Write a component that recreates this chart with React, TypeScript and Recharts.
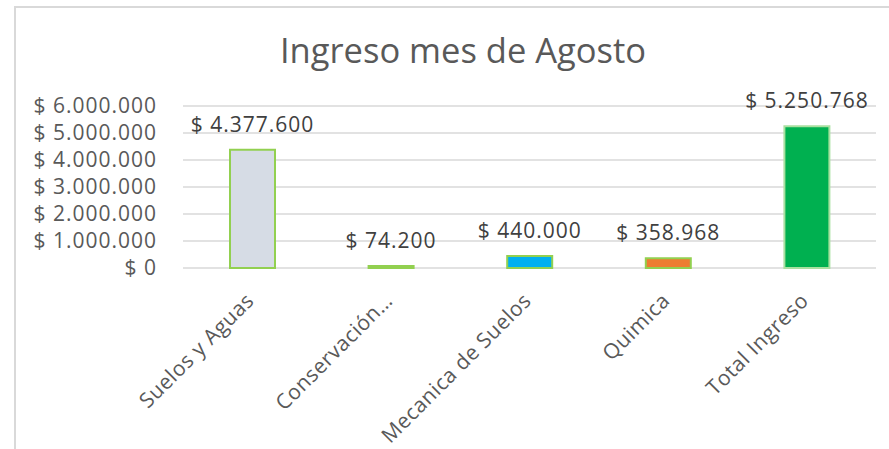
import React from "react";
import { BarChart, Bar, XAxis, YAxis, CartesianGrid, Cell, LabelList } from "recharts";

const categories = ["Suelos y Aguas", "Conservación…", "Mecanica de Suelos", "Quimica", "Total Ingreso"];
const ingresos = [4377600, 74200, 440000, 358968, 5250768];
const yTicks = [0, 1000000, 2000000, 3000000, 4000000, 5000000, 6000000];
const fills = ["#d6dce5", "#92d050", "#00b0f0", "#ed7d31", "#00b050"];
const strokes = ["#92d050", "#92d050", "#92d050", "#92d050", "#a9e0a0"];

const data = categories.map((name, i) => ({ name, value: ingresos[i] }));

const FONT = "'Open Sans', sans-serif";

function money(v: number) {
  return "$ " + Math.round(v).toString().replace(/\B(?=(\d{3})+(?!\d))/g, ".");
}

function CategoryTick({ x, y, payload }: any) {
  return (
    <g transform={`translate(${x + 3},${y + 34})`}>
      <text textAnchor="end" transform="rotate(-45)" fill="#595959" fontSize={21} letterSpacing={0.5} fontFamily={FONT}>
        {payload.value}
      </text>
    </g>
  );
}

// single-line value label above each bar
function ValueLabel({ x, y, width, value }: any) {
  return (
    <text
      x={x + width / 2}
      y={y - 18}
      textAnchor="middle"
      fill="#404040"
      fontSize={21}
      letterSpacing={1}
      fontFamily={FONT}
    >
      {money(Number(value))}
    </text>
  );
}

export default function App() {
  return (
    <div style={{ position: "absolute", left: 15, top: 7, width: 874, height: 442, fontFamily: FONT }}>
      <div
        style={{
          position: "absolute", left: -1, top: -1, right: 0, bottom: 0,
          borderLeft: "2px solid #d9d9d9", borderTop: "2px solid #d9d9d9",
        }}
      />
      <div
        style={{
          position: "absolute", left: 0, width: 896, top: 26, textAlign: "center",
          fontSize: 34.5, lineHeight: "1", color: "#595959", whiteSpace: "nowrap",
        }}
      >
        Ingreso mes de Agosto
      </div>
      <BarChart
        width={874}
        height={442}
        data={data}
        margin={{ top: 99, right: 13, left: 0, bottom: 0 }}
        style={{ position: "absolute", left: 0, top: 0 }}
      >
        <CartesianGrid vertical={false} stroke="#d9d9d9" strokeWidth={1.5} />
        <XAxis
          dataKey="name"
          height={181}
          axisLine={false}
          tickLine={false}
          tickSize={0}
          tickMargin={0}
          interval={0}
          tick={<CategoryTick />}
        />
        <YAxis
          width={168}
          domain={[0, 6000000]}
          ticks={yTicks}
          interval={0}
          tickFormatter={money}
          axisLine={false}
          tickLine={false}
          tickSize={0}
          tickMargin={26}
          tick={{ fontSize: 21, fill: "#595959", fontFamily: FONT, letterSpacing: 1 }}
        />
        <Bar dataKey="value" barSize={45} isAnimationActive={false} strokeWidth={2}>
          {data.map((d, i) => (
            <Cell key={d.name} fill={fills[i]} stroke={strokes[i]} />
          ))}
          <LabelList dataKey="value" content={<ValueLabel />} />
        </Bar>
      </BarChart>
    </div>
  );
}
